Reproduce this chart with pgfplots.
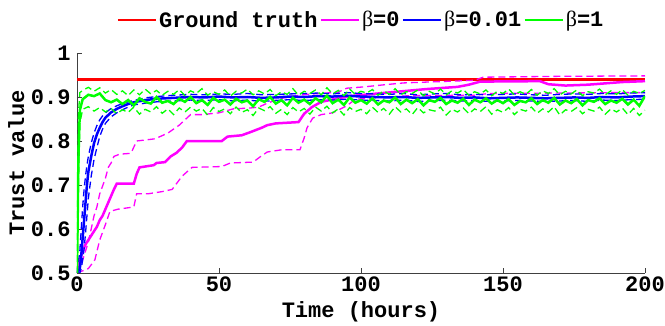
\documentclass[border=0pt]{standalone}
\usepackage{fontspec}
\setmainfont{Liberation Mono}
\newfontfamily\symb{Liberation Serif}
\usepackage{pgfplots}
\pgfplotsset{compat=1.18}
\usepackage{pgfplotstable}
\newcommand\bigf{\fontsize{22}{24}\selectfont\bfseries}
\definecolor{cred}{RGB}{255,0,0}
\definecolor{cmag}{RGB}{255,0,255}
\definecolor{cblue}{RGB}{0,0,255}
\definecolor{cgreen}{RGB}{0,255,0}

% green (beta = 1): t, mean, upper, lower
\pgfplotstableread{
t m u l
0 0.50 0.50 0.50
0.5 0.76 0.86 0.70
1 0.87 0.91 0.84
2 0.895 0.915 0.872
4 0.905 0.922 0.878
6 0.902 0.913 0.868
8 0.908 0.921 0.876
10 0.893 0.909 0.866
12 0.888 0.917 0.874
14 0.894 0.906 0.862
16 0.884 0.914 0.871
18 0.893 0.903 0.865
20 0.881 0.916 0.877
22 0.897 0.905 0.861
24 0.889 0.918 0.872
26 0.885 0.907 0.866
28 0.900 0.915 0.878
30 0.887 0.904 0.863
32 0.891 0.913 0.873
34 0.884 0.906 0.860
36 0.896 0.917 0.875
38 0.889 0.903 0.866
40 0.900 0.914 0.877
42 0.886 0.908 0.868
44 0.893 0.919 0.874
46 0.882 0.904 0.859
48 0.898 0.912 0.876
50 0.889 0.906 0.867
52 0.894 0.916 0.873
54 0.883 0.902 0.862
56 0.896 0.913 0.877
58 0.888 0.909 0.865
60 0.892 0.918 0.871
62 0.879 0.905 0.858
64 0.895 0.914 0.875
66 0.889 0.907 0.869
68 0.900 0.917 0.878
70 0.885 0.903 0.863
72 0.893 0.912 0.872
74 0.881 0.906 0.860
76 0.898 0.919 0.876
78 0.887 0.904 0.866
80 0.894 0.913 0.874
82 0.884 0.908 0.861
84 0.897 0.916 0.877
86 0.888 0.905 0.868
88 0.903 0.921 0.879
90 0.886 0.907 0.864
92 0.894 0.915 0.873
94 0.882 0.903 0.859
96 0.899 0.918 0.876
98 0.887 0.906 0.867
100 0.893 0.913 0.872
102 0.885 0.909 0.862
104 0.897 0.917 0.877
106 0.883 0.904 0.865
108 0.892 0.914 0.874
110 0.888 0.906 0.861
112 0.899 0.919 0.878
114 0.884 0.905 0.866
116 0.894 0.912 0.873
118 0.886 0.908 0.860
120 0.895 0.916 0.876
122 0.881 0.903 0.864
124 0.893 0.913 0.871
126 0.889 0.907 0.868
128 0.898 0.918 0.877
130 0.884 0.905 0.859
132 0.892 0.914 0.872
134 0.887 0.909 0.866
136 0.896 0.917 0.875
138 0.882 0.904 0.862
140 0.894 0.912 0.873
142 0.888 0.907 0.867
144 0.897 0.916 0.878
146 0.885 0.903 0.861
148 0.893 0.913 0.871
150 0.886 0.908 0.865
152 0.895 0.918 0.876
154 0.882 0.905 0.860
156 0.891 0.912 0.872
158 0.888 0.906 0.868
160 0.897 0.917 0.877
162 0.884 0.904 0.863
164 0.893 0.914 0.873
166 0.887 0.908 0.866
168 0.898 0.919 0.878
170 0.883 0.905 0.859
172 0.892 0.913 0.871
174 0.886 0.907 0.867
176 0.895 0.916 0.876
178 0.881 0.903 0.862
180 0.893 0.912 0.872
182 0.889 0.909 0.868
184 0.897 0.918 0.877
186 0.884 0.905 0.861
188 0.892 0.914 0.873
190 0.887 0.906 0.866
192 0.896 0.917 0.875
194 0.883 0.904 0.860
196 0.894 0.913 0.874
198 0.880 0.908 0.858
200 0.902 0.915 0.870
}\greentab

% blue (beta = 0.01): t, mean, upper, lower
\pgfplotstableread{
t m u l
0 0.50 0.50 0.50
1 0.51 0.55 0.50
1.5 0.54 0.60 0.51
2 0.58 0.65 0.53
2.5 0.62 0.69 0.555
3 0.66 0.72 0.59
3.5 0.70 0.745 0.63
4 0.73 0.765 0.67
5 0.765 0.795 0.72
6 0.795 0.818 0.758
7 0.815 0.835 0.785
8 0.83 0.848 0.81
9 0.843 0.857 0.827
10 0.853 0.864 0.840
12 0.865 0.874 0.855
14 0.873 0.880 0.864
16 0.879 0.885 0.871
18 0.884 0.889 0.877
20 0.888 0.892 0.882
24 0.893 0.898 0.886
28 0.896 0.901 0.889
34 0.898 0.904 0.891
40 0.900 0.906 0.893
45 0.899 0.905 0.892
50 0.901 0.907 0.894
55 0.899 0.906 0.891
60 0.900 0.908 0.893
65 0.898 0.905 0.890
70 0.899 0.906 0.892
75 0.901 0.907 0.894
80 0.900 0.908 0.892
85 0.902 0.909 0.894
90 0.901 0.907 0.893
95 0.903 0.910 0.895
100 0.901 0.908 0.893
105 0.900 0.907 0.892
110 0.899 0.906 0.891
115 0.900 0.908 0.893
120 0.898 0.905 0.890
125 0.899 0.907 0.891
130 0.900 0.908 0.893
135 0.898 0.905 0.891
140 0.899 0.906 0.892
145 0.897 0.905 0.890
150 0.898 0.906 0.891
155 0.899 0.907 0.892
160 0.898 0.905 0.891
165 0.897 0.904 0.890
170 0.898 0.906 0.891
175 0.899 0.907 0.892
180 0.898 0.906 0.890
185 0.900 0.908 0.893
190 0.899 0.907 0.892
195 0.901 0.909 0.894
200 0.902 0.910 0.895
}\bluetab

\begin{document}
\begin{tikzpicture}
\begin{axis}[
  at={(0pt,0pt)}, anchor=origin,
  width=568pt, height=220pt, scale only axis,
  xmin=0, xmax=200, ymin=0.5, ymax=1,
  xtick={0,50,100,150,200},
  ytick={0.5,0.6,0.7,0.8,0.9,1},
  yticklabels={0.5,0.6,0.7,0.8,0.9,1},
  axis x line*=bottom, axis y line*=left,
  tick align=inside, major tick length=5pt,
  axis line style={black!75, line width=0.8pt},
  tick style={black!75, line width=0.8pt},
  /pgf/number format/assume math mode=true,
  ticklabel style={font=\bigf},
  yticklabel style={xshift=-3pt},
  xlabel={Time (hours)}, ylabel={Trust value},
  label style={font=\bigf},
  xlabel style={at={(axis description cs:0.5,-0.177)}, anchor=center},
  ylabel style={at={(axis description cs:-0.107,0.5)}, anchor=center, rotate=0},
  legend style={at={(0.5,1)}, anchor=center, yshift=33pt, draw=none, fill=none,
    font=\bigf, legend columns=-1, inner sep=0pt},
  legend image code/.code={\draw[#1] (0pt,0pt) -- (38pt,0pt);},
  clip=true,
]
\addlegendimage{cred, line width=2.5pt}
\addlegendentry{Ground truth}
\addlegendimage{cmag, line width=2.5pt}
\addlegendentry{{\symb\mdseries β}=0}
\addlegendimage{cblue, line width=2.5pt}
\addlegendentry{{\symb\mdseries β}=0.01}
\addlegendimage{cgreen, line width=2.5pt}
\addlegendentry{{\symb\mdseries β}=1}

% ground truth
\addplot[cred, line width=2.5pt, forget plot] coordinates {(0,0.94) (200,0.94)};

% beta = 0 mean
\addplot[cmag, line width=2.5pt, forget plot] coordinates {
(0,0.5) (1,0.53) (2,0.55) (3,0.565) (4,0.575) (5,0.585) (6,0.595) (7,0.605)
(8,0.62) (9,0.63) (10,0.645) (11,0.66) (12,0.675) (13,0.69) (14,0.703)
(20,0.703) (21,0.725) (22,0.74) (27,0.745) (28,0.75) (31,0.752) (33,0.765)
(35,0.773) (37,0.785) (38.7,0.80) (51,0.80) (53,0.81) (58,0.813) (61,0.82)
(63,0.825) (65,0.83) (67,0.836) (70,0.84) (78,0.843) (80,0.862) (82.7,0.877)
(86,0.889) (92,0.897) (96,0.902) (101,0.905) (111,0.911) (123,0.918)
(134,0.923) (138,0.928) (142,0.935) (163,0.936) (166,0.929) (172,0.926)
(180,0.928) (186,0.931) (192,0.934) (200,0.936)};
% beta = 0 upper
\addplot[cmag, line width=1.3pt, dash pattern=on 7pt off 4pt, forget plot] coordinates {
(0,0.5) (2,0.53) (4,0.57) (5,0.6) (6,0.63) (7,0.65) (8,0.68) (10,0.715)
(11,0.74) (12,0.75) (13,0.765) (15,0.77) (19,0.772) (21,0.80) (27.5,0.805)
(32,0.818) (36,0.836) (40,0.86) (44,0.86) (50,0.864) (55,0.873) (61,0.875)
(64,0.877) (67,0.886) (72,0.897) (79,0.905) (92,0.911) (95,0.92) (101,0.923)
(107,0.927) (115,0.932) (132,0.936) (140,0.938) (143,0.945) (170,0.947) (200,0.948)};
% beta = 0 lower
\addplot[cmag, line width=1.3pt, dash pattern=on 7pt off 4pt, forget plot] coordinates {
(0,0.5) (4,0.51) (6.3,0.53) (8,0.575) (10,0.61) (11.6,0.64) (14.4,0.645)
(20,0.65) (21,0.68) (25,0.68) (30,0.685) (33.5,0.69) (37,0.72) (40.5,0.74)
(51,0.742) (54,0.75) (62,0.752) (64.5,0.764) (67,0.775) (72,0.78) (78.5,0.78)
(80,0.807) (81,0.83) (83,0.852) (86,0.86) (90,0.864) (95,0.88) (98,0.895)
(105,0.898) (117,0.903) (140,0.904) (145,0.908) (170,0.909) (190,0.91) (200,0.91)};

% beta = 0.01
\addplot[cblue, line width=2.5pt, forget plot] table[x=t, y=m] {\bluetab};
\addplot[cblue, line width=1.3pt, dash pattern=on 7pt off 4pt, forget plot] table[x=t, y=u] {\bluetab};
\addplot[cblue, line width=1.3pt, dash pattern=on 7pt off 4pt, forget plot] table[x=t, y=l] {\bluetab};

% beta = 1
\addplot[cgreen, line width=2.5pt, forget plot] table[x=t, y=m] {\greentab};
\addplot[cgreen, line width=1.3pt, dash pattern=on 7pt off 4pt, forget plot] table[x=t, y=u] {\greentab};
\addplot[cgreen, line width=1.3pt, dash pattern=on 7pt off 4pt, forget plot] table[x=t, y=l] {\greentab};
\end{axis}
\pgfresetboundingbox
\path (-77pt,-53pt) rectangle (588pt,273pt);
\end{tikzpicture}
\end{document}
